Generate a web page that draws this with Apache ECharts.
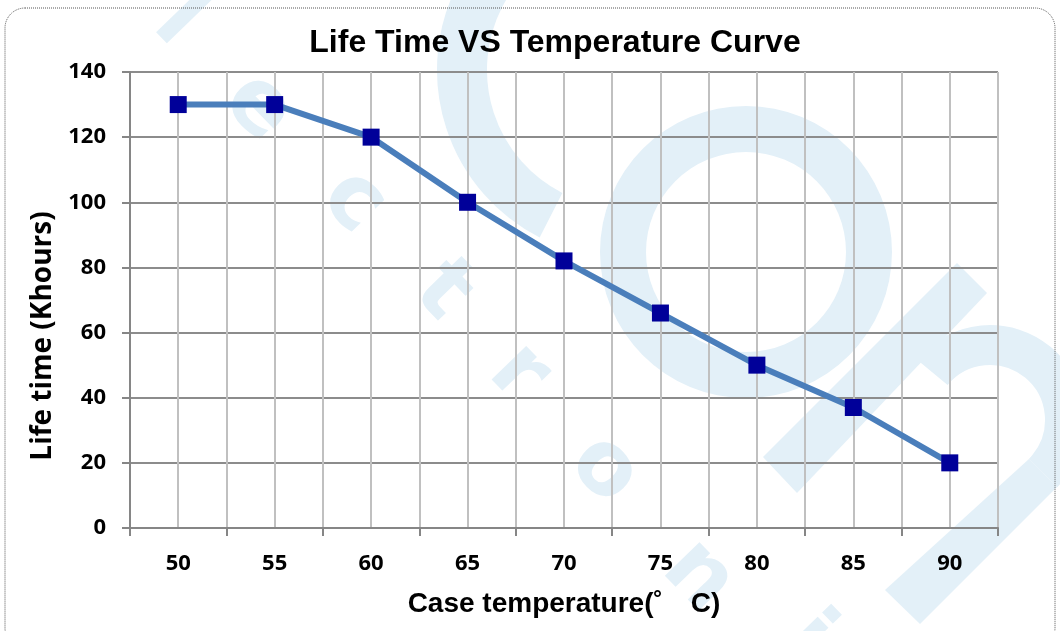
<!DOCTYPE html>
<html>
<head>
<meta charset="utf-8">
<script src="https://cdn.jsdelivr.net/npm/echarts@6/dist/echarts.min.js"></script>
<style>html,body{margin:0;padding:0;background:#fff;}#c{width:1060px;height:631px;}</style>
</head>
<body>
<div id="c"></div>
<script>
var categories = ['50', '55', '60', '65', '70', '75', '80', '85', '90'];
var lifeTime = [130, 130, 120, 100, 82, 66, 50, 37, 20];
var yTicks = { min: 0, max: 140, interval: 20 };
var titleText = 'Life Time VS Temperature Curve';
var xName = 'Case temperature(\u02da\u3000C)';
var yName = 'Life time (Khours)';
var wmLetters = ['l', 'e', 'c', 't', 'r', 'o', 'n', 'i'];

var chart = echarts.init(document.getElementById('c'), null, { renderer: 'canvas' });
var wmColor = '#e3f0f8';
var wmPos = [[178, 22], [258, 108], [353, 202], [442, 292], [518, 374], [604, 470], [698, 577], [805, 640]];
var wmGraphics = wmLetters.map(function (ch, i) {
  return {
    type: 'text', z: -10, x: wmPos[i][0], y: wmPos[i][1], rotation: -0.8,
    style: { text: ch, fill: wmColor, font: 'bold 88px "DejaVu Sans"', textAlign: 'center', textVerticalAlign: 'middle' }
  };
});
var graphics = [
  { type: 'ring', z: -10, shape: { cx: 746, cy: 252, r: 146, r0: 100 }, style: { fill: wmColor } },
  { type: 'arc', z: -10, shape: { cx: 625, cy: 70, r: 163, startAngle: Math.PI * 0.65, endAngle: Math.PI * 1.4 }, style: { stroke: wmColor, lineWidth: 50, fill: null } },
  { type: 'polygon', z: -10, shape: { points: [[763, 457], [957, 263], [987, 293], [797, 493]] }, style: { fill: wmColor } },
  { type: 'arc', z: -10, shape: { cx: 990, cy: 420, r: 75, startAngle: -Math.PI * 0.78, endAngle: Math.PI * 0.25 }, style: { stroke: wmColor, lineWidth: 40, fill: null } },
  { type: 'polygon', z: -10, shape: { points: [[1029, 459], [1057, 487], [920, 624], [885, 590]] }, style: { fill: wmColor } },
  { type: 'rect', z: 100, shape: { x: 5, y: 8, width: 1050, height: 640, r: 20 }, style: { fill: null, stroke: '#555', lineWidth: 1, lineDash: [1, 1] } }
].concat(wmGraphics);

chart.setOption({
  animation: false,
  backgroundColor: '#fff',
  title: {
    text: titleText, left: 550, top: 22, textAlign: 'center',
    textStyle: { fontFamily: 'Liberation Sans', fontWeight: 'bold', fontSize: 32, color: '#000' }
  },
  graphic: graphics,
  grid: { left: 130, right: 62, top: 72, bottom: 103, containLabel: false, outerBoundsMode: 'none' },
  xAxis: [{
    type: 'category', data: categories, boundaryGap: true,
    name: xName, nameLocation: 'middle', nameGap: 62,
    nameTextStyle: { fontFamily: 'Liberation Sans', fontWeight: 'bold', fontSize: 28, color: '#000' },
    axisLine: { lineStyle: { color: '#868686', width: 2 } },
    axisTick: { show: true, length: 8, lineStyle: { color: '#868686', width: 2 } },
    axisLabel: { margin: 25, fontFamily: 'Open Sans', fontWeight: 'bold', fontSize: 22, color: '#000' },
    splitLine: { show: false }
  }, {
    type: 'value', min: 0, max: 18, interval: 1, position: 'bottom', show: true,
    axisLine: { show: false }, axisTick: { show: false }, axisLabel: { show: false },
    splitLine: { show: true, lineStyle: { color: '#c0c0c0', width: 2 } }
  }],
  yAxis: {
    type: 'value', min: yTicks.min, max: yTicks.max, interval: yTicks.interval,
    name: yName, nameLocation: 'middle', nameGap: 73, nameRotate: 90,
    nameTextStyle: { fontFamily: 'Open Sans', fontWeight: 'bold', fontSize: 28, color: '#000', padding: [0, 72, 0, 0] },
    axisLine: { show: true, lineStyle: { color: '#868686', width: 2 } },
    axisTick: { show: true, inside: false, length: 8, lineStyle: { color: '#868686', width: 2 } },
    axisLabel: { margin: 24, fontFamily: 'Open Sans', fontWeight: 'bold', fontSize: 22, color: '#000' },
    splitLine: { show: true, lineStyle: { color: '#8c8c8c', width: 2 } }
  },
  series: [{
    type: 'line', data: lifeTime, xAxisIndex: 0,
    symbol: 'rect', symbolSize: 17,
    itemStyle: { color: '#000099' },
    lineStyle: { color: '#4a7ebb', width: 6 },
    z: 5
  }]
});
</script>
</body>
</html>
